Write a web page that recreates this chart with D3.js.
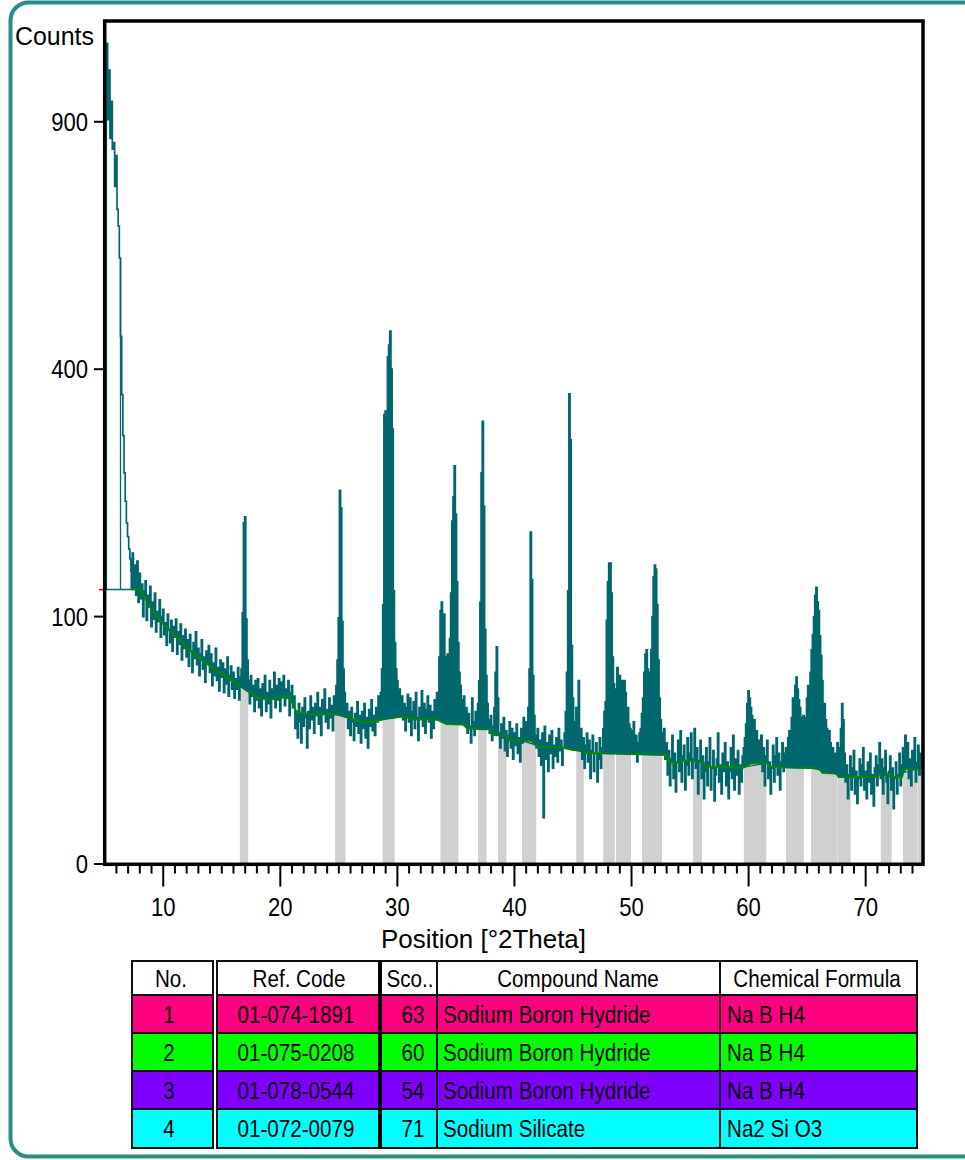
<!DOCTYPE html>
<html>
<head>
<meta charset="utf-8">
<script src="https://cdn.jsdelivr.net/npm/d3@7"></script>
<style>
  body { margin: 0; background: #fff; }
  svg { display: block; }
  text { font-family: "Liberation Sans", Arial, sans-serif; fill: #000; }
</style>
</head>
<body>
<svg id="chart" width="965" height="1160"></svg>
<script>
// ---- Scan data: counts per 0.1 deg step, 2Theta 5.0 .. 75.0 ----
const scanStart = 5.0;
const scanStep = 0.1;
const counts = [
  /* 5 */ 1140, 920, 1100, 905, 1030, 860, 950, 835, 850, 750,
  /* 6 */ 820, 700, 665, 600, 455, 360, 300, 250, 215, 190,
  /* 7 */ 175, 162, 152, 140, 158, 128, 146, 118, 150, 112,
  /* 8 */ 138, 115, 128, 100, 122, 131, 97, 118, 108, 126,
  /* 9 */ 92, 112, 98, 120, 88, 104, 96, 114, 84, 100,
  /*10 */ 106, 86, 95, 78, 102, 90, 80, 97, 74, 92,
  /*11 */ 84, 98, 72, 88, 79, 94, 68, 85, 76, 90,
  /*12 */ 70, 82, 64, 86, 74, 60, 80, 69, 88, 65,
  /*13 */ 76, 58, 72, 82, 62, 70, 54, 74, 66, 78,
  /*14 */ 60, 72, 52, 66, 58, 76, 55, 63, 49, 68,
  /*15 */ 57, 66, 48, 62, 53, 70, 46, 58, 64, 50,
  /*16 */ 60, 45, 56, 50, 63, 44, 57, 62, 103, 190,
  /*17 */ 197, 98, 68, 55, 42, 58, 46, 52, 38, 55,
  /*18 */ 44, 56, 40, 50, 36, 53, 45, 58, 38, 48,
  /*19 */ 42, 55, 35, 50, 46, 60, 40, 52, 44, 56,
  /*20 */ 38, 54, 47, 58, 41, 50, 45, 55, 36, 48,
  /*21 */ 52, 40, 46, 30, 38, 26, 42, 33, 24, 40,
  /*22 */ 31, 45, 35, 22, 38, 30, 46, 34, 40, 28,
  /*23 */ 42, 36, 48, 32, 40, 27, 44, 37, 50, 33,
  /*24 */ 39, 30, 45, 35, 41, 29, 46, 38, 52, 68,
  /*25 */ 99, 228, 207, 96, 62, 48, 36, 42, 30, 38,
  /*26 */ 27, 40, 33, 25, 37, 31, 43, 28, 36, 24,
  /*27 */ 38, 30, 42, 26, 35, 22, 39, 31, 44, 29,
  /*28 */ 36, 27, 40, 33, 46, 38, 48, 62, 110, 330,
  /*29 */ 335, 300, 420, 440, 464, 400, 309, 122, 80, 62,
  /*30 */ 55, 44, 50, 38, 46, 34, 42, 29, 40, 47,
  /*31 */ 33, 45, 27, 38, 43, 30, 48, 35, 25, 40,
  /*32 */ 36, 49, 31, 42, 28, 39, 46, 33, 41, 26,
  /*33 */ 38, 30, 44, 35, 48, 45, 70, 105, 112, 85,
  /*34 */ 102, 70, 62, 72, 58, 83, 120, 192, 220, 259,
  /*35 */ 200, 130, 80, 60, 52, 44, 38, 46, 33, 40,
  /*36 */ 28, 37, 31, 24, 45, 33, 27, 38, 30, 42,
  /*37 */ 55, 112, 250, 320, 209, 90, 58, 42, 34, 28,
  /*38 */ 36, 25, 31, 40, 60, 77, 45, 28, 22, 32,
  /*39 */ 26, 35, 21, 29, 19, 27, 33, 22, 30, 18,
  /*40 */ 28, 23, 32, 20, 26, 17, 30, 24, 35, 28,
  /*41 */ 33, 26, 40, 62, 180, 132, 58, 36, 27, 22,
  /*42 */ 30, 19, 25, 16, 28, 3.5, 31, 18, 24, 14,
  /*43 */ 27, 20, 29, 15, 23, 19, 26, 17, 30, 21,
  /*44 */ 25, 16, 22, 28, 38, 60, 122, 361, 294, 78,
  /*45 */ 45, 33, 26, 40, 30, 55, 24, 30, 18, 26,
  /*46 */ 15, 23, 28, 17, 25, 12, 21, 27, 14, 20,
  /*47 */ 24, 11, 18, 26, 15, 22, 30, 38, 43, 97,
  /*48 */ 130, 148, 148, 120, 70, 53, 45, 50, 63, 50,
  /*49 */ 58, 45, 55, 42, 55, 48, 38, 40, 32, 30,
  /*50 */ 29, 24, 33, 20, 27, 17, 24, 28, 30, 37,
  /*51 */ 45, 60, 72, 75, 62, 55, 60, 75, 100, 135,
  /*52 */ 146, 142, 110, 68, 45, 34, 28, 24, 30, 18,
  /*53 */ 24, 13, 21, 10, 18, 27, 12, 20, 8.5, 17,
  /*54 */ 25, 14, 29, 11, 19, 23, 9, 16, 26, 13,
  /*55 */ 20, 28, 12, 18, 30, 15, 22, 8, 17, 25,
  /*56 */ 12, 19, 7, 14, 22, 10, 17, 26, 9, 15,
  /*57 */ 21, 6.5, 13, 18, 28, 11, 16, 8, 20, 14,
  /*58 */ 24, 10, 17, 7, 14, 22, 12, 27, 9, 18,
  /*59 */ 13, 21, 8, 16, 11, 19, 22, 26, 32, 42,
  /*60 */ 49, 45, 40, 36, 30, 34, 26, 29, 21, 25,
  /*61 */ 18, 27, 14, 22, 10, 19, 25, 12, 17, 8,
  /*62 */ 15, 23, 11, 19, 26, 13, 20, 9, 17, 24,
  /*63 */ 14, 20, 22, 18, 26, 29, 25, 35, 45, 40,
  /*64 */ 52, 57, 50, 44, 40, 35, 30, 36, 28, 35,
  /*65 */ 45, 52, 48, 60, 75, 86, 100, 118, 125, 112,
  /*66 */ 105, 85, 71, 55, 40, 42, 34, 30, 27, 29,
  /*67 */ 24, 19, 22, 15, 20, 16, 24, 18, 22, 30,
  /*68 */ 42, 34, 20, 11, 16, 7, 13, 19, 9, 15,
  /*69 */ 21, 8, 14, 6, 12, 18, 10, 16, 22, 9,
  /*70 */ 14, 7, 17, 11, 20, 8, 13, 5.5, 15, 19,
  /*71 */ 10, 16, 24, 12, 18, 8, 15, 21, 11, 6,
  /*72 */ 14, 19, 9, 15, 5, 12, 17, 8, 13, 20,
  /*73 */ 10, 16, 22, 14, 27, 19, 24, 12, 18, 10,
  /*74 */ 21, 15, 26, 11, 17, 23, 13, 20, 16, 24,
  /*75 */ 18
];

// Fitted background: [2Theta, counts] breakpoints
const backgroundPts = [
  [7.2, 123], [8.0, 123], [9.0, 106], [9.7, 97], [10.5, 89], [11.4, 82],
  [12.2, 75], [13.1, 69], [14.0, 64], [14.8, 60], [15.6, 56], [16.4, 52.5],
  [17.4, 48], [18.2, 45], [19.0, 44], [19.8, 45], [20.8, 45.6], [21.4, 37.5],
  [23.0, 36.5], [25.0, 36.5], [26.0, 34.5], [27.1, 33], [28.0, 33.2], [29.0, 34.5],
  [30.5, 35.5], [31.3, 34.2], [33.4, 34], [34.2, 32], [35.6, 31.8], [36.0, 30],
  [38.0, 29.5], [38.1, 27.2], [39.2, 27], [39.5, 25], [41.4, 24.8], [42.0, 22.5],
  [44.0, 22.3], [45.0, 21.2], [45.7, 21], [46.0, 20.1], [47.4, 20], [53.0, 19.4],
  [53.2, 16.8], [54.1, 16.7], [54.2, 17.4], [56.1, 17.4], [56.3, 15.5], [58.1, 15.4],
  [59.5, 15.1], [60.2, 16.5], [61.6, 16.6], [61.8, 15.5], [63.4, 15.2], [66.0, 15],
  [66.3, 13.6], [67.5, 13.4], [67.7, 12.4], [71.0, 12.4], [71.2, 13.2], [72.0, 13.3],
  [72.2, 12.4], [73.1, 12.4], [73.3, 14.8], [75.0, 14.8]
];

// Reference-pattern regions shaded under the scan: [from, to] in 2Theta
const peakRegions = [
  [16.55, 17.25], [24.7, 25.55], [28.75, 29.75], [33.7, 35.2], [36.9, 37.6],
  [38.6, 39.3], [40.65, 41.85], [45.3, 45.9], [47.6, 48.55], [48.7, 49.95],
  [50.9, 52.6], [55.25, 56.0], [59.6, 61.5], [63.2, 64.7], [65.35, 67.55],
  [67.6, 68.7], [71.3, 72.2], [73.2, 74.4], [74.45, 74.75]
];

// Low-angle base: level (counts) spanning [from, to], with risers at given angles
const lowAngleBase = { from: 5.0, to: 7.2, level: 123, risers: [5.15, 6.35] };

const yTickValues = [0, 100, 400, 900];
const xMajorTicks = [10, 20, 30, 40, 50, 60, 70];
const xMinorTicks = [6, 7, 8, 9, 11, 12, 13, 14, 15, 16, 17, 18, 19, 21, 22, 23, 24, 25, 26, 27, 28, 29,
  31, 32, 33, 34, 35, 36, 37, 38, 39, 41, 42, 43, 44, 45, 46, 47, 48, 49, 51, 52, 53, 54, 55, 56, 57, 58, 59,
  61, 62, 63, 64, 65, 66, 67, 68, 69, 71, 72, 73, 74];

// Pattern list table
const tableHeaders = ["No.", "Ref. Code", "Sco..", "Compound Name", "Chemical Formula"];
const refNumbers = ["1", "2", "3", "4"];
const refCodes = ["01-074-1891", "01-075-0208", "01-078-0544", "01-072-0079"];
const scores = ["63", "60", "54", "71"];
const compoundNames = ["Sodium Boron Hydride", "Sodium Boron Hydride", "Sodium Boron Hydride", "Sodium Silicate"];
const formulas = ["Na B H4", "Na B H4", "Na B H4", "Na2 Si O3"];
const rowColors = ["#ff0080", "#00ff00", "#8000ff", "#00ffff"];

// ---- Drawing ----
const svg = d3.select("#chart");
const TEAL = "#00676e";
const box = { left: 104.7, right: 923, top: 21, bottom: 864.3 };

const x = d3.scaleLinear().domain([5, 75]).range([104.7, 924.2]);
const y = d3.scaleSqrt().domain([0, 1161]).range([864, 21]);

const pattern = counts.map((c, i) => ({ t: +(scanStart + i * scanStep).toFixed(2), c }));
const bgStart = backgroundPts[0][0];

const bisect = d3.bisector(d => d[0]).left;
function bgAt(t) {
  if (t <= backgroundPts[0][0]) return backgroundPts[0][1];
  const i = Math.min(bisect(backgroundPts, t), backgroundPts.length - 1);
  const a = backgroundPts[i - 1], b = backgroundPts[i];
  return a[1] + (b[1] - a[1]) * (t - a[0]) / (b[0] - a[0]);
}
function countAt(t) {
  const i = Math.round((t - scanStart) / scanStep);
  return counts[Math.max(0, Math.min(counts.length - 1, i))];
}

// horizontally condensed label helper
function label(parent, px, py, str, size, sx, anchor) {
  return parent.append("text")
    .attr("transform", `translate(${px},${py}) scale(${sx},1)`)
    .attr("text-anchor", anchor)
    .style("font-size", size + "px")
    .text(str);
}

// outer rounded frame
svg.append("rect")
  .attr("x", 10.5).attr("y", 2.5).attr("width", 1000).attr("height", 1154)
  .attr("rx", 18).attr("fill", "none").attr("stroke", "#2b8b8b").attr("stroke-width", 4);

const defs = svg.append("defs");
defs.append("clipPath").attr("id", "plot-clip").append("rect")
  .attr("x", box.left).attr("y", box.top)
  .attr("width", box.right - box.left).attr("height", box.bottom - box.top);

const plotG = svg.append("g").attr("clip-path", "url(#plot-clip)");

// shaded regions: up to background, and under the scan inside the region
const areaUnder = d3.area().x(d => x(d.t)).y0(y(0)).y1(d => y(d.c)).curve(d3.curveStep);
peakRegions.forEach((r, i) => {
  defs.append("clipPath").attr("id", "reg" + i).append("rect")
    .attr("x", x(r[0])).attr("y", box.top)
    .attr("width", x(r[1]) - x(r[0])).attr("height", box.bottom - box.top);
  plotG.append("path")
    .attr("d", `M${x(r[0])},${y(0)}L${x(r[0])},${y(bgAt(r[0]))}L${x(r[1])},${y(bgAt(r[1]))}L${x(r[1])},${y(0)}Z`)
    .attr("fill", "#d0d0d0");
  plotG.append("path")
    .datum(pattern)
    .attr("clip-path", `url(#reg${i})`)
    .attr("d", areaUnder)
    .attr("fill", "#d0d0d0");
});

// low-angle base line and risers
plotG.append("line")
  .attr("x1", x(lowAngleBase.from)).attr("x2", x(lowAngleBase.to))
  .attr("y1", y(lowAngleBase.level)).attr("y2", y(lowAngleBase.level))
  .attr("stroke", TEAL).attr("stroke-width", 1.5);
lowAngleBase.risers.forEach(t => {
  plotG.append("line")
    .attr("x1", x(t)).attr("x2", x(t))
    .attr("y1", y(lowAngleBase.level)).attr("y2", y(countAt(t - 0.05)))
    .attr("stroke", TEAL).attr("stroke-width", 1.3);
});

// scan: columns between the background and each count, then the step trace
const columnFill = d3.area()
  .defined(d => d.t >= bgStart)
  .x(d => x(d.t))
  .y0(d => y(bgAt(d.t)))
  .y1(d => y(d.c))
  .curve(d3.curveStep);
plotG.append("path")
  .datum(pattern)
  .attr("d", columnFill)
  .attr("fill", TEAL);

const scanLine = d3.line().x(d => x(d.t)).y(d => y(d.c)).curve(d3.curveStep);
plotG.append("path")
  .datum(pattern)
  .attr("d", scanLine)
  .attr("fill", "none").attr("stroke", TEAL).attr("stroke-width", 1.7)
  .attr("stroke-linejoin", "miter");

// background curve
const bgLine = d3.line().x(d => x(d[0])).y(d => y(d[1]));
plotG.append("path")
  .datum(backgroundPts)
  .attr("d", bgLine)
  .attr("fill", "none").attr("stroke", "#008a00").attr("stroke-width", 2);

// region base lines
peakRegions.forEach(r => {
  plotG.append("line")
    .attr("x1", x(r[0])).attr("x2", x(r[1]))
    .attr("y1", y(bgAt(r[0]))).attr("y2", y(bgAt(r[1])))
    .attr("stroke", TEAL).attr("stroke-width", 1.2);
});

// marker on the y axis at the base level
svg.append("line")
  .attr("x1", 99).attr("x2", 103).attr("y1", y(lowAngleBase.level)).attr("y2", y(lowAngleBase.level))
  .attr("stroke", "#ff0000").attr("stroke-width", 1.5);

// plot frame
svg.append("rect")
  .attr("x", box.left).attr("y", box.top)
  .attr("width", box.right - box.left).attr("height", box.bottom - box.top)
  .attr("fill", "none").attr("stroke", "#000").attr("stroke-width", 3.5);

// y axis ticks and labels
const axisG = svg.append("g");
yTickValues.forEach(v => {
  axisG.append("line").attr("x1", 94).attr("x2", box.left)
    .attr("y1", y(v)).attr("y2", y(v)).attr("stroke", "#000").attr("stroke-width", 2);
  label(axisG, 88, y(v) + 9, String(v), 26, 0.85, "end");
});

// x axis ticks and labels
xMinorTicks.forEach(v => {
  axisG.append("line").attr("x1", x(v)).attr("x2", x(v))
    .attr("y1", box.bottom).attr("y2", 873.5).attr("stroke", "#000").attr("stroke-width", 2);
});
xMajorTicks.forEach(v => {
  axisG.append("line").attr("x1", x(v)).attr("x2", x(v))
    .attr("y1", box.bottom).attr("y2", 886.5).attr("stroke", "#000").attr("stroke-width", 2);
  label(axisG, x(v), 916, String(v), 26, 0.85, "middle");
});

// axis titles
axisG.append("text").attr("x", 15).attr("y", 45)
  .attr("textLength", 79).attr("lengthAdjust", "spacingAndGlyphs")
  .style("font-size", "25px").text("Counts");
axisG.append("text").attr("x", 381).attr("y", 948)
  .attr("textLength", 205).attr("lengthAdjust", "spacingAndGlyphs")
  .style("font-size", "25px").text("Position [°2Theta]");

// ---- Pattern list table ----
const colEdges = [[132, 213], [217, 379], [381, 437], [437, 720], [720, 917]];
const rowEdges = [[961, 995], [995, 1033], [1033, 1071], [1071, 1109], [1109, 1148]];
const tableG = svg.append("g");
const cellText = [
  { px: 169, anchor: "middle" },
  { px: 296, anchor: "middle" },
  { px: 413, anchor: "middle" },
  { px: 443, anchor: "start" },
  { px: 727, anchor: "start" }
];
const headerPos = [171, 299, 410, 578, 817];

rowEdges.forEach((re, ri) => {
  const fill = ri === 0 ? "#ffffff" : rowColors[ri - 1];
  colEdges.forEach((ce, ci) => {
    tableG.append("rect")
      .attr("x", ce[0]).attr("y", re[0])
      .attr("width", ce[1] - ce[0]).attr("height", re[1] - re[0])
      .attr("fill", fill).attr("stroke", "#111").attr("stroke-width", 2);
  });
});
// thick separator after the reference code column
tableG.append("line").attr("x1", 380).attr("x2", 380).attr("y1", 961).attr("y2", 1148)
  .attr("stroke", "#000").attr("stroke-width", 3);

tableHeaders.forEach((h, ci) => {
  label(tableG, headerPos[ci], (rowEdges[0][0] + rowEdges[0][1]) / 2 + 8.5, h, 24, 0.86, "middle");
});
const columns = [refNumbers, refCodes, scores, compoundNames, formulas];
refNumbers.forEach((_, ri) => {
  const re = rowEdges[ri + 1];
  const cy = (re[0] + re[1]) / 2 + 8.5;
  columns.forEach((col, ci) => {
    label(tableG, cellText[ci].px, cy, col[ri], 24, 0.86, cellText[ci].anchor);
  });
});
</script>
</body>
</html>
